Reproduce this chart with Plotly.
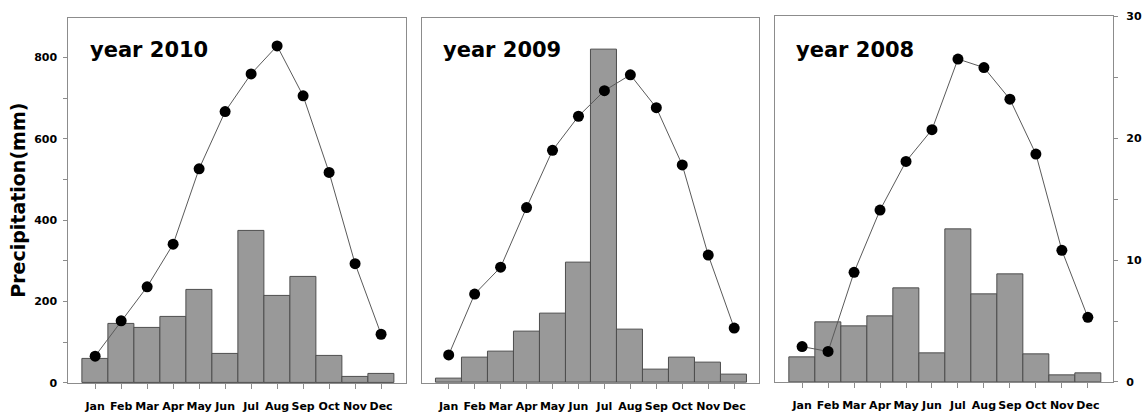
import plotly.graph_objects as go

# Monthly data for the three years
months = ["Jan", "Feb", "Mar", "Apr", "May", "Jun", "Jul", "Aug", "Sep", "Oct", "Nov", "Dec"]

precip_2010 = [60, 145, 136, 161, 228, 71, 373, 214, 261, 67, 15, 21]
temp_2010 = [2.2, 5.1, 7.9, 11.4, 17.6, 22.3, 25.4, 27.7, 23.6, 17.3, 9.8, 4.0]

precip_2009 = [10, 61, 78, 126, 170, 295, 819, 131, 33, 63, 50, 21]
temp_2009 = [2.3, 7.3, 9.5, 14.4, 19.1, 21.9, 24.0, 25.3, 22.6, 17.9, 10.5, 4.5]

precip_2008 = [61, 146, 137, 162, 229, 71, 375, 214, 263, 67, 17, 21]
temp_2008 = [2.9, 2.5, 9.0, 14.1, 18.1, 20.7, 26.5, 25.8, 23.2, 18.7, 10.8, 5.3]

years = ["year 2010", "year 2009", "year 2008"]
precip = [precip_2010, precip_2009, precip_2008]
temps = [temp_2010, temp_2009, temp_2008]

W, H = 1142, 418
# panel frames in pixels: (left, right, top, bottom)
frames = [(68.5, 407, 12.3, 389), (422.7, 760.7, 12, 389), (776.7, 1115, 10.7, 388)]
title_x = [88, 441.7, 795.7]

BAR_FILL = "#999999"
BAR_EDGE = "#4d4d4d"
FRAME = "#8c8c8c"
FONT = "DejaVu Sans"
x_idx = list(range(12))

fig = go.Figure()
layout = dict(
    width=W, height=H,
    margin=dict(l=0, r=0, t=0, b=0),
    paper_bgcolor="white", plot_bgcolor="white",
    showlegend=False,
    bargap=0,
    font=dict(family=FONT, color="black"),
    annotations=[],
)

for i in range(3):
    xa = "x" if i == 0 else f"x{i+1}"
    ya_bar = f"y{2*i+1}" if i > 0 else "y"
    ya_line = f"y{2*i+2}"
    fig.add_trace(go.Bar(
        x=x_idx, y=precip[i], xaxis=xa, yaxis=ya_bar, width=1,
        marker=dict(color=BAR_FILL, line=dict(color=BAR_EDGE, width=1)),
    ))
    fig.add_trace(go.Scatter(
        x=x_idx, y=temps[i], xaxis=xa, yaxis=ya_line, mode="lines+markers",
        line=dict(color="#5a5a5a", width=1),
        marker=dict(color="black", size=11),
    ))

    l, r, t, b = frames[i]
    xdom = [l / W, r / W]
    ydom = [(H - b) / H, (H - t) / H]
    xkey = "xaxis" if i == 0 else f"xaxis{i+1}"
    ybar_key = "yaxis" if i == 0 else f"yaxis{2*i+1}"
    yline_key = f"yaxis{2*i+2}"
    ybar_ref = "y" if i == 0 else f"y{2*i+1}"

    layout[xkey] = dict(
        domain=xdom, anchor=ybar_ref, range=[-1.03, 11.97],
        tickmode="array", tickvals=x_idx, ticktext=months,
        ticks="outside", ticklen=5, tickcolor=FRAME, tickwidth=1,
        tickfont=dict(family=FONT, size=11, weight="bold", color="black"),
        ticklabelstandoff=8,
        showline=True, linecolor=FRAME, linewidth=1, mirror=True,
        showgrid=False, zeroline=False, fixedrange=True,
    )
    layout[ybar_key] = dict(
        domain=ydom, anchor=xa, range=[0, 897],
        showline=True, linecolor=FRAME, linewidth=1, mirror=True,
        showgrid=False, zeroline=False,
        showticklabels=(i == 0), ticks="outside" if i == 0 else "",
        dtick=200, ticklen=4, tickcolor=FRAME,
        tickfont=dict(family=FONT, size=11, weight="bold", color="black"),
        ticklabelstandoff=4,
    )
    if i == 0:
        layout[ybar_key]["minor"] = dict(dtick=100, ticks="outside", ticklen=4, tickcolor=FRAME, showgrid=False)
    layout[yline_key] = dict(
        overlaying=ybar_ref, anchor=xa, side="right", range=[0, 30],
        showgrid=False, zeroline=False,
        showline=(i == 2), linecolor=FRAME,
        showticklabels=(i == 2), ticks="outside" if i == 2 else "",
        dtick=10, ticklen=4, tickcolor=FRAME,
        tickfont=dict(family=FONT, size=11, weight="bold", color="black"),
        ticklabelstandoff=6,
    )
    if i == 2:
        layout[yline_key]["minor"] = dict(dtick=5, ticks="outside", ticklen=4, tickcolor=FRAME, showgrid=False)

    layout["annotations"].append(dict(
        text=years[i], xref="paper", yref="paper",
        x=title_x[i] / W, y=(H - 45) / H, xanchor="left", yanchor="middle",
        showarrow=False, font=dict(family=FONT, size=21, weight="bold", color="black"),
    ))

layout["annotations"].append(dict(
    text="Precipitation(mm)", xref="paper", yref="paper",
    x=18 / W, y=(H - 200) / H, xanchor="center", yanchor="middle",
    textangle=-90, showarrow=False,
    font=dict(family=FONT, size=19, weight="bold", color="black"),
))

fig.update_layout(**layout)
fig.write_html("out.html")
